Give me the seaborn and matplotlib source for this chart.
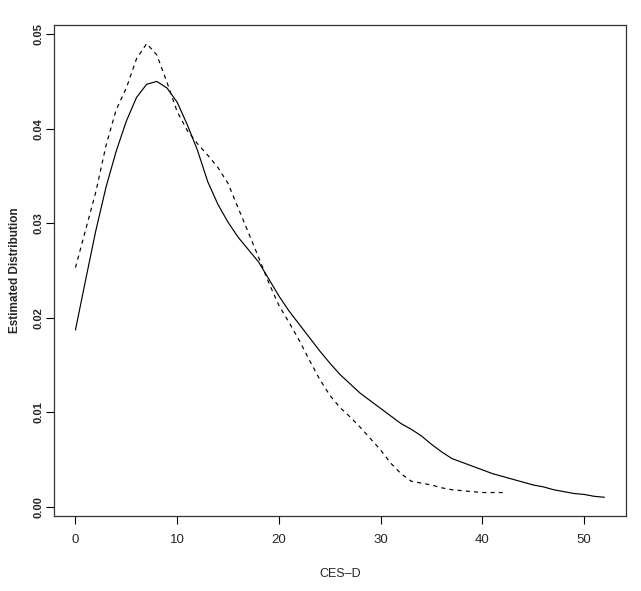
import numpy as np
import pandas as pd
import matplotlib
matplotlib.use("Agg")
import matplotlib.pyplot as plt
import seaborn as sns

# estimated density, solid curve (CES-D 0..52)
solid_x = list(range(0, 53))
solid_y = [0.0187, 0.0240, 0.0292, 0.0338, 0.0376, 0.0408, 0.0433, 0.0447, 0.0450, 0.0443,
           0.0428, 0.0404, 0.0377, 0.0344, 0.0320, 0.0301, 0.0285, 0.0272, 0.0259, 0.0241,
           0.0223, 0.0207, 0.0193, 0.0179, 0.0165, 0.0152, 0.0140, 0.0130, 0.0120, 0.0112,
           0.0104, 0.0096, 0.0088, 0.0082, 0.0075, 0.0066, 0.0058, 0.0051, 0.0047, 0.0043,
           0.0039, 0.0035, 0.0032, 0.0029, 0.0026, 0.0023, 0.0021, 0.0018, 0.0016, 0.0014,
           0.0013, 0.0011, 0.0010]

# estimated density, dashed curve (CES-D 0..42)
dashed_x = list(range(0, 43))
dashed_y = [0.0253, 0.0293, 0.0333, 0.0382, 0.0420, 0.0443, 0.0474, 0.0490, 0.0478, 0.0449,
            0.0418, 0.0398, 0.0384, 0.0372, 0.0359, 0.0342, 0.0316, 0.0290, 0.0264, 0.0237,
            0.0213, 0.0195, 0.0176, 0.0155, 0.0135, 0.0118, 0.0105, 0.0095, 0.0084, 0.0072,
            0.0060, 0.0046, 0.0035, 0.0027, 0.0025, 0.0023, 0.0020, 0.0018, 0.0017, 0.0016,
            0.0015, 0.0015, 0.0015]

x_ticks = [0, 10, 20, 30, 40, 50]
y_ticks = [0.00, 0.01, 0.02, 0.03, 0.04, 0.05]

df = pd.concat([
    pd.DataFrame({'cesd': solid_x, 'dens': solid_y, 'curve': 'a'}),
    pd.DataFrame({'cesd': dashed_x, 'dens': dashed_y, 'curve': 'b'}),
])

sns.set_style('ticks')
plt.rcParams['font.family'] = ['Liberation Sans', 'DejaVu Sans']
narrow = ['Liberation Sans Narrow', 'Liberation Sans']

fig = plt.figure(figsize=(6.41, 5.91), dpi=100)
ax = fig.add_axes([0.0847, 0.1274, 0.976 - 0.0847, 0.9577 - 0.1274])

sns.lineplot(data=df, x='cesd', y='dens', style='curve', color='black',
             dashes={'a': '', 'b': (3.5, 3.5)}, linewidth=0.85, legend=False, ax=ax)

ax.set_xlim(-2.08, 54.08)
ax.set_ylim(-0.00095, 0.05097)
ax.set_xticks(x_ticks)
ax.set_xticklabels([str(t) for t in x_ticks], fontsize=9.5, family=narrow)
ax.set_yticks(y_ticks)
ax.set_yticklabels([f'{t:.2f}' for t in y_ticks], fontsize=8, rotation=90,
                   va='center', fontweight='bold')
ax.tick_params(axis='both', direction='out', length=6, width=0.8, color='black')
ax.tick_params(axis='x', pad=7)
ax.tick_params(axis='y', pad=1.5)

for s in ax.spines.values():
    s.set_visible(True)
    s.set_linewidth(0.9)
    s.set_color('#333333')

ax.set_xlabel('CES\u2013D', fontsize=9, family=narrow, va='center')
ax.xaxis.set_label_coords(0.5, -0.1188)
ax.set_ylabel('Estimated Distribution', fontsize=8.5, fontweight='bold', va='center')
ax.yaxis.set_label_coords(-0.0688, 0.5)

fig.savefig('out.png', dpi=100)
